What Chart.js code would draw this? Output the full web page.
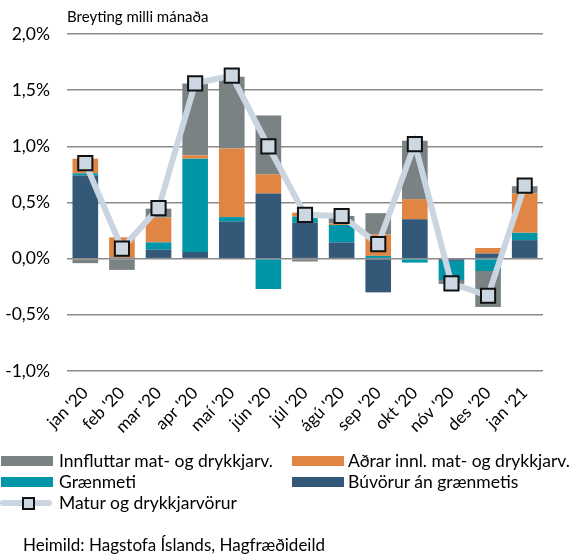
<!DOCTYPE html>
<html>
<head>
<meta charset="utf-8">
<script src="https://cdn.jsdelivr.net/npm/chart.js@4"></script>
<style>
  body { margin: 0; background: #fff; font-family: Lato, 'Open Sans', sans-serif; color: #000; }
  #wrap { position: relative; width: 571px; height: 555px; }
  #chart { position: absolute; left: 0; top: 0; }
  .title { position: absolute; left: 67px; top: 7px; font-size: 15px; }
  .leg { position: absolute; font-size: 17.5px; line-height: 20px; white-space: nowrap; }
  .sw { position: absolute; width: 52px; height: 10px; }
  .src { position: absolute; left: 23px; top: 534px; font-size: 17px; }
</style>
</head>
<body>
<div id="wrap">
  <canvas id="chart" width="571" height="555"></canvas>
  <div class="title">Breyting milli mánaða</div>

  <div class="sw" style="left:1px; top:456px; background:#7b8283"></div>
  <div class="leg" style="left:59px; top:451px">Innfluttar mat- og drykkjarv.</div>
  <div class="sw" style="left:292px; top:456px; background:#e08543"></div>
  <div class="leg" style="left:348px; top:451px">Aðrar innl. mat- og drykkjarv.</div>

  <div class="sw" style="left:1px; top:477px; background:#0096a8"></div>
  <div class="leg" style="left:59px; top:472px">Grænmeti</div>
  <div class="sw" style="left:292px; top:477px; background:#335878"></div>
  <div class="leg" style="left:348px; top:472px">Búvörur án grænmetis</div>

  <div class="sw" style="left:0px; top:500px; height:6px; border-radius:3px; background:#c9d5e0"></div>
  <div class="sw" style="left:22px; top:497px; width:9px; height:9px; border:2px solid #111; background:#cdd7e2"></div>
  <div class="leg" style="left:59px; top:493px">Matur og drykkjarvörur</div>

  <div class="src">Heimild: Hagstofa Íslands, Hagfræðideild</div>
</div>

<script>
// --- Data (% change month on month) ---
const months = ["jan '20", "feb '20", "mar '20", "apr '20", "maí '20", "jún '20", "júl '20",
                "ágú '20", "sep '20", "okt '20", "nóv '20", "des '20", "jan '21"];
const buvorur    = [0.74, 0.01, 0.08, 0.06, 0.33, 0.58, 0.32, 0.145, -0.30, 0.35, -0.02, 0.045, 0.165];
const graenmeti  = [0.02, 0.00, 0.065, 0.83, 0.04, -0.27, 0.055, 0.155, 0.025, -0.035, -0.17, -0.11, 0.065];
const adrarInnl  = [0.13, 0.18, 0.22, 0.03, 0.61, 0.17, 0.035, 0.015, 0.19, 0.18, 0.00, 0.05, 0.35];
const innfluttar = [-0.04, -0.10, 0.08, 0.64, 0.64, 0.525, -0.025, 0.065, 0.19, 0.52, -0.035, -0.32, 0.065];
const matur      = [0.85, 0.09, 0.45, 1.56, 1.63, 1.00, 0.39, 0.38, 0.13, 1.02, -0.22, -0.33, 0.65];
const yTicks     = [-1.0, -0.5, 0.0, 0.5, 1.0, 1.5, 2.0];

const fmt = v => v.toFixed(1).replace('.', ',') + '%';

function bar(label, data, color) {
    return { type: 'bar', label: label, data: data, backgroundColor: color, borderWidth: 0,
             stack: 's', order: 1, barPercentage: 0.7, categoryPercentage: 1 };
}

new Chart(document.getElementById('chart'), {
    data: {
        labels: months,
        datasets: [
            { type: 'line', label: 'Matur og drykkjarvörur', data: matur, order: 0,
              borderColor: '#c9d5e0', borderWidth: 6, tension: 0,
              pointStyle: 'rect', pointRadius: 10, pointHoverRadius: 10,
              pointBackgroundColor: '#cdd7e2', pointBorderColor: '#111', pointBorderWidth: 2 },
            // stack order bottom -> top
            bar('Búvörur án grænmetis', buvorur, '#335878'),
            bar('Grænmeti', graenmeti, '#0096a8'),
            bar('Aðrar innl. mat- og drykkjarv.', adrarInnl, '#e08543'),
            bar('Innfluttar mat- og drykkjarv.', innfluttar, '#7b8283')
        ]
    },
    options: {
        responsive: false,
        animation: false,
        layout: { padding: { top: 34, right: 28, left: 0, bottom: 0 } },
        plugins: { legend: { display: false }, tooltip: { enabled: false } },
        scales: {
            x: {
                stacked: true,
                grid: { display: false },
                border: { display: false },
                ticks: { color: '#000', font: { family: 'Lato', size: 17 },
                         minRotation: 45, maxRotation: 45, padding: 4 },
                afterFit: s => { s.height = 184; }
            },
            y: {
                stacked: true,
                min: -1, max: 2,
                afterBuildTicks: s => { s.ticks = yTicks.map(v => ({ value: v })); },
                grid: { color: '#8a8a8a', lineWidth: 1.5, drawTicks: false },
                border: { display: false },
                ticks: { color: '#000', font: { family: 'Lato', size: 17.5 }, padding: 17,
                         callback: v => fmt(v) },
                afterFit: s => { s.width = 67; }
            }
        }
    }
});
</script>
</body>
</html>
